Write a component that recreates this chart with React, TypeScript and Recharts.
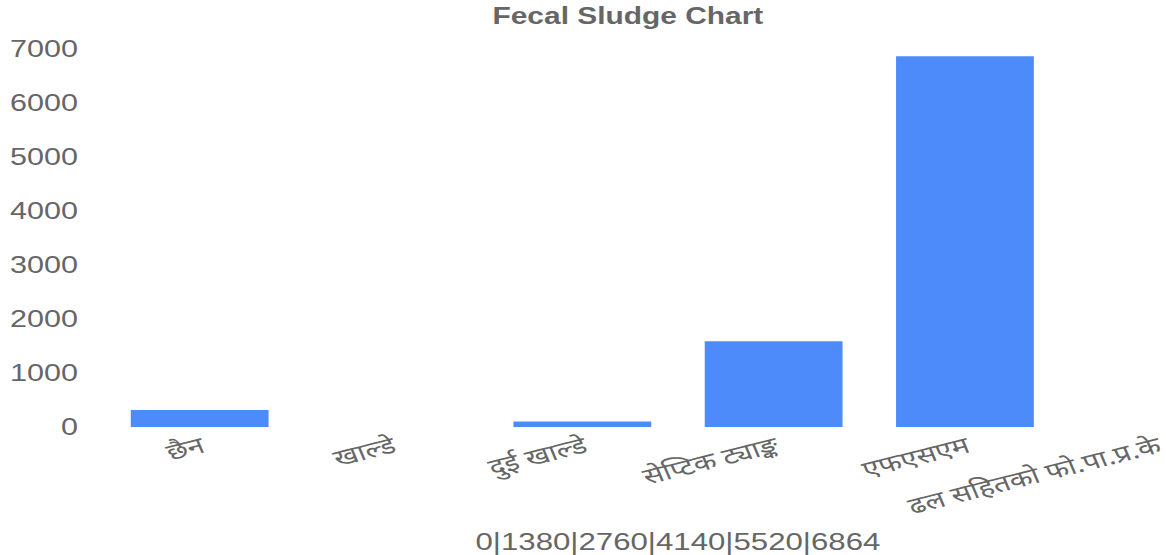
import { BarChart, Bar, XAxis, YAxis } from 'recharts';

const categories = ['छैन', 'खाल्डे', 'दुई खाल्डे', 'सेप्टिक ट्याङ्क', 'एफएसएम', 'ढल सहितको फो.पा.प्र.के'];
const households = [315, 0, 100, 1590, 6864, 0];
const yTicks = [0, 1000, 2000, 3000, 4000, 5000, 6000, 7000];
const axisTitle = '0|1380|2760|4140|5520|6864';

const data = categories.map((name, i) => ({ name, value: households[i] }));

const FONT = '"Liberation Sans", Arial, "Noto Sans", sans-serif';
const DEVA_FONT = '"Noto Sans Devanagari", "Noto Sans", "Liberation Sans", sans-serif';
const GREY = '#666';

// the source picture is stretched sideways, so the chart is drawn narrow and scaled in x
const SX = 1.3;

function CategoryTick({ x, y, payload }: any) {
  return (
    <text
      x={x}
      y={y}
      dy="0.72em"
      transform={`rotate(-18, ${x}, ${y})`}
      textAnchor="end"
      fill={GREY}
      fontSize={23}
      fontFamily={DEVA_FONT}
    >
      {payload.value}
    </text>
  );
}

export default function App() {
  return (
    <div style={{ position: 'fixed', left: 0, top: 0, width: 1166, height: 555, overflow: 'hidden', background: '#fff' }}>
      <div style={{ position: 'absolute', left: 0, top: 0, width: 966, height: 555, transform: `scale(${SX}, 1)`, transformOrigin: '0 0' }}>
        <div
          style={{
            position: 'absolute',
            left: 0,
            top: 5,
            width: 966,
            textAlign: 'center',
            fontFamily: FONT,
            fontWeight: 'bold',
            fontSize: 23,
            lineHeight: '23px',
            color: GREY,
          }}
        >
          Fecal Sludge Chart
        </div>
        <BarChart width={966} height={555} data={data} margin={{ top: 49, right: 3, left: 0, bottom: 0 }} barCategoryGap="14%">
          <XAxis
            dataKey="name"
            height={128}
            axisLine={false}
            tickLine={false}
            tickSize={0}
            tickMargin={9}
            interval={0}
            tick={<CategoryTick />}
            label={{ value: axisTitle, position: 'insideBottom', offset: 5, fill: GREY, fontSize: 24, fontFamily: FONT }}
          />
          <YAxis
            width={80}
            domain={[0, 7000]}
            ticks={yTicks}
            axisLine={false}
            tickLine={false}
            tickSize={0}
            tickMargin={20}
            tick={{ fill: GREY, fontSize: 23.5, fontFamily: FONT }}
          />
          <Bar dataKey="value" fill="#4e8bfa" isAnimationActive={false} />
        </BarChart>
      </div>
    </div>
  );
}
